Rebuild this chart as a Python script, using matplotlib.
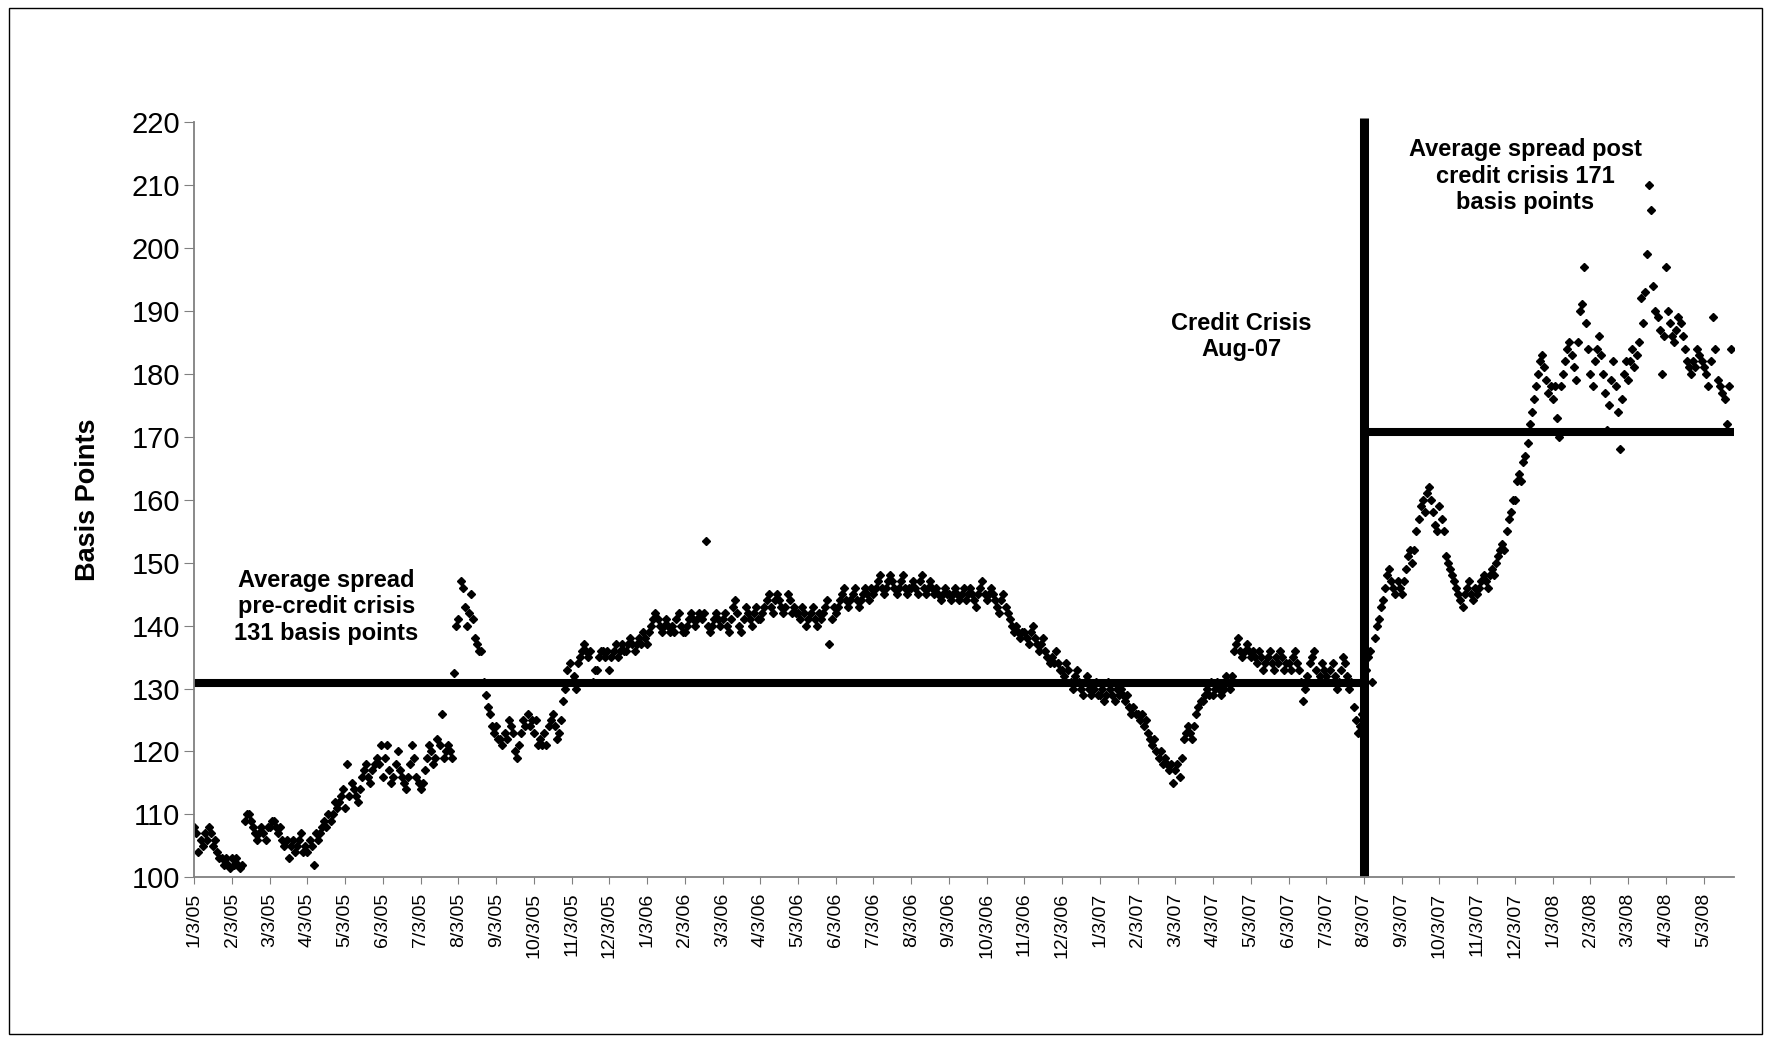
import numpy as np
import matplotlib
matplotlib.use("Agg")
import matplotlib.pyplot as plt
from matplotlib.patches import Rectangle

plt.rcParams['font.family'] = ['Liberation Sans', 'DejaVu Sans']

# daily spread (basis points), one list per month, Jan-05 .. May-08
spread_2005 = [
    [108, 107, 104, 106, 105, 107, 106, 108, 107, 105, 106, 104, 103, 103, 102, 103, 102, 101.5],
    [103, 102, 103, 102, 101.5, 102, 109, 110, 110, 109, 108, 107, 106, 107, 108, 107, 106, 108],
    [108, 109, 109, 108, 107, 108, 106, 105, 106, 103, 105, 106, 104, 105, 106, 107, 104, 105],
    [104, 106, 105, 102, 107, 106, 107, 108, 109, 108, 110, 109, 110, 112, 111, 112, 113, 114],
    [111, 118, 113, 115, 114, 113, 112, 114, 116, 117, 118, 116, 115, 117, 118, 119, 118, 121],
    [116, 119, 121, 117, 115, 116, 118, 120, 117, 116, 115, 114, 116, 118, 121, 119, 116, 115],
    [114, 115, 117, 119, 121, 120, 118, 119, 122, 121, 126, 119, 120, 121, 120, 119, 132.5, 140],
    [141, 147, 146, 143, 140, 142, 145, 141, 138, 137, 136, 136, 131, 129, 127, 126, 124, 123],
    [124, 122, 122, 121, 123, 122, 125, 124, 123, 120, 119, 121, 123, 125, 124, 126, 124, 125],
    [123, 125, 121, 122, 121, 123, 121, 124, 125, 126, 124, 122, 123, 125, 128, 130, 133, 134],
    [131, 132, 130, 134, 135, 136, 137, 136, 135, 136, 131, 133, 133, 135, 136, 136, 135, 136],
    [133, 135, 136, 137, 135, 136, 137, 136, 136, 137, 138, 137, 136, 137, 138, 137, 139, 138],
]
spread_2006 = [
    [137, 139, 140, 141, 142, 141, 140, 139, 140, 141, 140, 139, 140, 139, 141, 142, 140, 139],
    [139, 140, 141, 142, 141, 140, 141, 142, 141, 142, 153.5, 140, 139, 140, 141, 142, 141, 140],
    [141, 142, 140, 139, 141, 143, 144, 142, 140, 139, 141, 143, 142, 141, 140, 142, 143, 141],
    [141, 142, 143, 144, 145, 143, 142, 144, 145, 144, 143, 142, 143, 145, 144, 142, 143, 142],
    [142, 141, 143, 142, 140, 141, 142, 143, 141, 140, 142, 141, 142, 143, 144, 137, 141, 143],
    [142, 143, 144, 145, 146, 144, 143, 144, 145, 146, 144, 143, 144, 145, 146, 145, 144, 146],
    [145, 146, 147, 148, 146, 145, 146, 147, 148, 147, 146, 145, 146, 147, 148, 146, 145, 146],
    [146, 147, 146, 145, 147, 148, 146, 145, 146, 147, 146, 145, 146, 145, 144, 145, 146, 145],
    [145, 144, 145, 146, 145, 144, 145, 146, 144, 145, 146, 145, 144, 143, 145, 146, 147, 145],
    [144, 145, 146, 145, 144, 143, 142, 144, 145, 143, 142, 141, 140, 139, 140, 139, 138, 139],
    [139, 138, 137, 139, 140, 138, 137, 136, 137, 138, 136, 135, 134, 135, 134, 136, 134, 133],
    [133, 132, 134, 133, 131, 130, 132, 133, 131, 130, 129, 131, 132, 130, 129, 130, 131, 129],
]
spread_2007 = [
    [129, 130, 128, 129, 131, 130, 129, 128, 130, 129, 130, 129, 128, 129, 127, 126, 127, 126],
    [126, 125, 126, 124, 125, 123, 122, 121, 122, 120, 119, 120, 118, 119, 118, 117, 118, 115],
    [117, 118, 116, 119, 122, 123, 124, 123, 122, 124, 126, 127, 128, 128, 129, 130, 129, 131],
    [129, 130, 131, 130, 129, 130, 132, 131, 130, 132, 136, 137, 138, 136, 135, 136, 137, 136],
    [135, 136, 135, 134, 136, 135, 133, 134, 135, 136, 134, 133, 135, 134, 136, 135, 133, 134],
    [134, 133, 135, 136, 134, 133, 131, 128, 130, 132, 134, 135, 136, 133, 131, 132, 134, 133],
    [132, 131, 133, 134, 132, 130, 131, 133, 135, 134, 132, 130, 131, 127, 125, 123, 124, 126],
    [130, 133, 135, 136, 131, 138, 140, 141, 143, 144, 146, 148, 149, 147, 146, 145, 147, 146],
    [145, 147, 149, 151, 152, 150, 152, 155, 157, 159, 160, 158, 161, 162, 160, 158, 156, 155],
    [159, 157, 155, 151, 150, 149, 148, 147, 146, 145, 144, 143, 145, 146, 147, 145, 144, 146],
    [145, 146, 147, 148, 147, 146, 148, 149, 148, 150, 151, 152, 153, 152, 155, 157, 158, 160],
    [160, 163, 164, 163, 166, 167, 169, 172, 174, 176, 178, 180, 182, 183, 181, 179, 177, 178],
]
spread_2008 = [
    [176, 178, 173, 170, 178, 180, 182, 184, 185, 183, 181, 179, 185, 190, 191, 197, 188, 184],
    [180, 178, 182, 184, 186, 183, 180, 177, 171, 175, 179, 182, 178, 174, 168, 176, 180, 182],
    [179, 182, 184, 181, 183, 185, 192, 188, 193, 199, 210, 206, 194, 190, 189, 187, 180, 186],
    [197, 190, 188, 186, 185, 187, 189, 188, 186, 184, 182, 181, 180, 182, 181, 184, 183, 182],
    [181, 180, 178, 182, 189, 184, 179, 178, 177, 176, 172, 178, 184],
]
last_month_span = 0.8   # data stops near the end of May-08

avg_pre = 130.85
avg_post = 170.7
crisis_month = 31       # 8/3/07

months = spread_2005 + spread_2006 + spread_2007 + spread_2008
tick_labels = []
for yy in ['05', '06', '07', '08']:
    for mm in range(1, 13):
        tick_labels.append('%d/3/%s' % (mm, yy))
tick_labels = tick_labels[:len(months)]

xs, ys = [], []
for m, vals in enumerate(months):
    span = last_month_span if m == len(months) - 1 else 1.0
    n = len(vals)
    for i, v in enumerate(vals):
        xs.append(m + span * i / n)
        ys.append(v)

fig = plt.figure(figsize=(17.71, 10.42), dpi=100)
ax = fig.add_axes([0.1097, 0.158, 0.8693, 0.725])

ax.plot(xs, ys, linestyle='none', marker='D', markersize=4.5, color='black')

xmax = len(months) - 1 + last_month_span
ax.plot([0, crisis_month], [avg_pre, avg_pre], color='black', lw=5.8, solid_capstyle='butt')
ax.plot([crisis_month, xmax], [avg_post, avg_post], color='black', lw=5.8, solid_capstyle='butt')
ax.plot([crisis_month, crisis_month], [100, 220.7], color='black', lw=6.5, solid_capstyle='butt',
        clip_on=False)

ax.set_xlim(0, xmax)
ax.set_ylim(100, 220)
ax.set_yticks(np.arange(100, 221, 10))
ax.set_xticks(np.arange(len(months)))
ax.set_xticklabels(tick_labels, rotation=90, fontsize=14)
ax.tick_params(axis='y', labelsize=21, length=7, color='#808080', pad=3)
ax.tick_params(axis='x', length=5, color='#808080', pad=6)

for s in ['top', 'right']:
    ax.spines[s].set_visible(False)
for s in ['left', 'bottom']:
    ax.spines[s].set_color('#808080')
    ax.spines[s].set_linewidth(1.3)

ax.set_ylabel('Basis Points', fontsize=19.5, fontweight='bold', labelpad=22)

ax.text(3.5, 143.0, 'Average spread\npre-credit crisis\n131 basis points', ha='center', va='center',
        fontsize=17, fontweight='bold', linespacing=1.2)
ax.text(27.75, 185.9, 'Credit Crisis\nAug-07', ha='center', va='center',
        fontsize=17, fontweight='bold', linespacing=1.2)
ax.text(35.27, 211.4, 'Average spread post\ncredit crisis 171\nbasis points', ha='center', va='center',
        fontsize=17, fontweight='bold', linespacing=1.2)

fig.patches.append(Rectangle((0.005, 0.008), 0.99, 0.984, transform=fig.transFigure,
                             fill=False, edgecolor='black', lw=1))

fig.savefig('out.png', dpi=100)
